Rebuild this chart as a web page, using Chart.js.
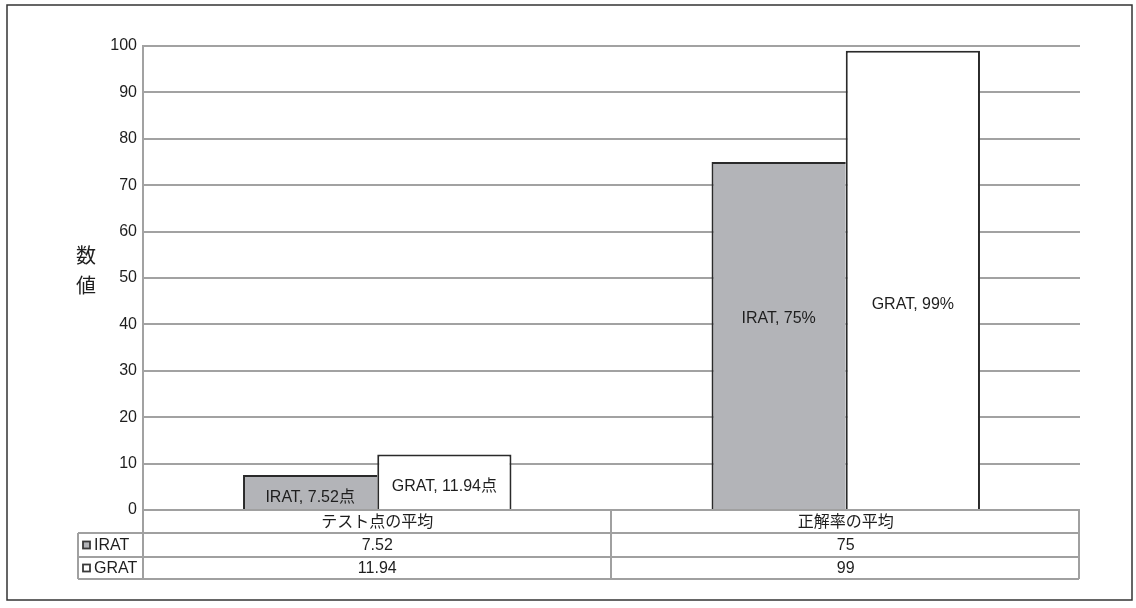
<!DOCTYPE html>
<html>
<head>
<meta charset="utf-8">
<script src="https://cdn.jsdelivr.net/npm/chart.js@4/dist/chart.umd.min.js"></script>
<style>
  html, body { margin: 0; padding: 0; background: #ffffff; }
  #wrap { width: 1136px; height: 608px; position: relative; }
</style>
</head>
<body>
<div id="wrap"><canvas id="c" width="1136" height="608"></canvas></div>
<script>
// ---- data ----
const categories = ['テスト点の平均', '正解率の平均'];
const seriesNames = ['IRAT', 'GRAT'];
const iratValues = [7.52, 75];
const gratValues = [11.94, 99];
const tableIrat = ['7.52', '75'];
const tableGrat = ['11.94', '99'];
const unitSuffix = ['点', '%'];
const axisTitle = '数値';
const yTicks = [0, 10, 20, 30, 40, 50, 60, 70, 80, 90, 100];

// ---- styling ----
const FONT = '"Liberation Sans", Arial, "Noto Sans CJK JP", sans-serif';
const TEXT = '#1e1e1e';
const GRID = '#a2a2a2';
const TABLE_LINE = '#a0a0a0';
const fills = ['#b3b4b8', '#ffffff'];
const borders = [{ top: 2, left: 2, right: 0, bottom: 0 }, { top: 2, left: 2, right: 2, bottom: 0 }];
// vertical nudges (px) of the in-bar labels, per dataset, per category
const labelNudge = [[6, -17], [5, 25]];

const seriesValues = [iratValues, gratValues];
const tableValues = [tableIrat, tableGrat];

const extras = {
  id: 'extras',
  afterDatasetsDraw(chart) {
    const ctx = chart.ctx;
    const area = chart.chartArea;
    const x = chart.scales.x;
    ctx.save();
    // in-bar labels
    ctx.font = '16px ' + FONT;
    ctx.fillStyle = TEXT;
    ctx.textAlign = 'center';
    ctx.textBaseline = 'middle';
    chart.data.datasets.forEach((ds, di) => {
      const meta = chart.getDatasetMeta(di);
      meta.data.forEach((bar, i) => {
        const cy = (bar.y + bar.base) / 2 + labelNudge[di][i];
        ctx.fillText(seriesNames[di] + ', ' + seriesValues[di][i] + unitSuffix[i], bar.x, cy);
      });
    });

    // data table
    const top = area.bottom;
    const rowH = [23, 24, 22];
    const r1 = top + rowH[0], r2 = r1 + rowH[1], r3 = r2 + rowH[2];
    const left = area.left, right = area.right - 1;
    const legLeft = 78;
    const n = categories.length;
    const colW = (right - left) / n;
    ctx.strokeStyle = TABLE_LINE;
    ctx.lineWidth = 2;
    ctx.beginPath();
    ctx.moveTo(left, top); ctx.lineTo(right, top);
    [r1, r2, r3].forEach(yy => { ctx.moveTo(legLeft, yy); ctx.lineTo(right, yy); });
    ctx.moveTo(legLeft, r1); ctx.lineTo(legLeft, r3);
    for (let k = 0; k <= n; k++) {
      const xx = left + colW * k;
      ctx.moveTo(xx, top); ctx.lineTo(xx, r3);
    }
    ctx.stroke();

    ctx.fillStyle = TEXT;
    ctx.font = '16px ' + FONT;
    ctx.textAlign = 'center';
    categories.forEach((c, i) => {
      const cx = x.getPixelForValue(i);
      ctx.fillText(c, cx, top + rowH[0] / 2 + 1);
      ctx.fillText(tableValues[0][i], cx, r1 + rowH[1] / 2 + 1);
      ctx.fillText(tableValues[1][i], cx, r2 + rowH[2] / 2 + 1);
    });
    // legend keys
    ctx.textAlign = 'left';
    [r1, r2].forEach((ry, di) => {
      const h = rowH[di + 1];
      const ky = ry + h / 2 - 3.5;
      ctx.fillStyle = fills[di];
      ctx.fillRect(83, ky, 7, 7);
      ctx.strokeStyle = '#3a3a3a';
      ctx.lineWidth = 1.8;
      ctx.strokeRect(83, ky, 7, 7);
      ctx.fillStyle = TEXT;
      ctx.fillText(seriesNames[di], 94, ry + h / 2 + 1);
    });

    // vertical axis title (stacked characters)
    ctx.font = '20px ' + FONT;
    ctx.textAlign = 'center';
    const chars = Array.from(axisTitle);
    const mid = (area.top + area.bottom) / 2;
    chars.forEach((ch, k) => {
      ctx.fillText(ch, 86, mid - 6 + (k - (chars.length - 1) / 2) * 30);
    });

    // outer frame
    ctx.strokeStyle = '#333333';
    ctx.lineWidth = 1.5;
    ctx.strokeRect(7, 5, 1125, 595);
    ctx.restore();
  }
};

new Chart(document.getElementById('c'), {
  type: 'bar',
  data: {
    labels: categories,
    datasets: seriesNames.map((name, di) => ({
      label: name,
      data: seriesValues[di],
      backgroundColor: fills[di],
      borderColor: '#2a2a2a',
      borderWidth: borders[di],
      borderSkipped: false,
      barPercentage: 1.0,
      categoryPercentage: 0.573
    }))
  },
  options: {
    responsive: false,
    animation: false,
    devicePixelRatio: 1,
    layout: { padding: { top: 46, right: 56, bottom: 98, left: 0 } },
    plugins: {
      legend: { display: false },
      tooltip: { enabled: false },
      title: { display: false }
    },
    scales: {
      x: { display: false },
      y: {
        min: 0,
        max: 100,
        afterFit(scale) { scale.width = 143; },
        afterBuildTicks(scale) { scale.ticks = yTicks.map(v => ({ value: v })); },
        ticks: {
          padding: 6,
          color: TEXT,
          font: { family: FONT, size: 16 }
        },
        grid: { color: GRID, lineWidth: 2, drawTicks: false },
        border: { display: true, color: GRID, width: 2 }
      }
    }
  },
  plugins: [extras]
});
</script>
</body>
</html>
